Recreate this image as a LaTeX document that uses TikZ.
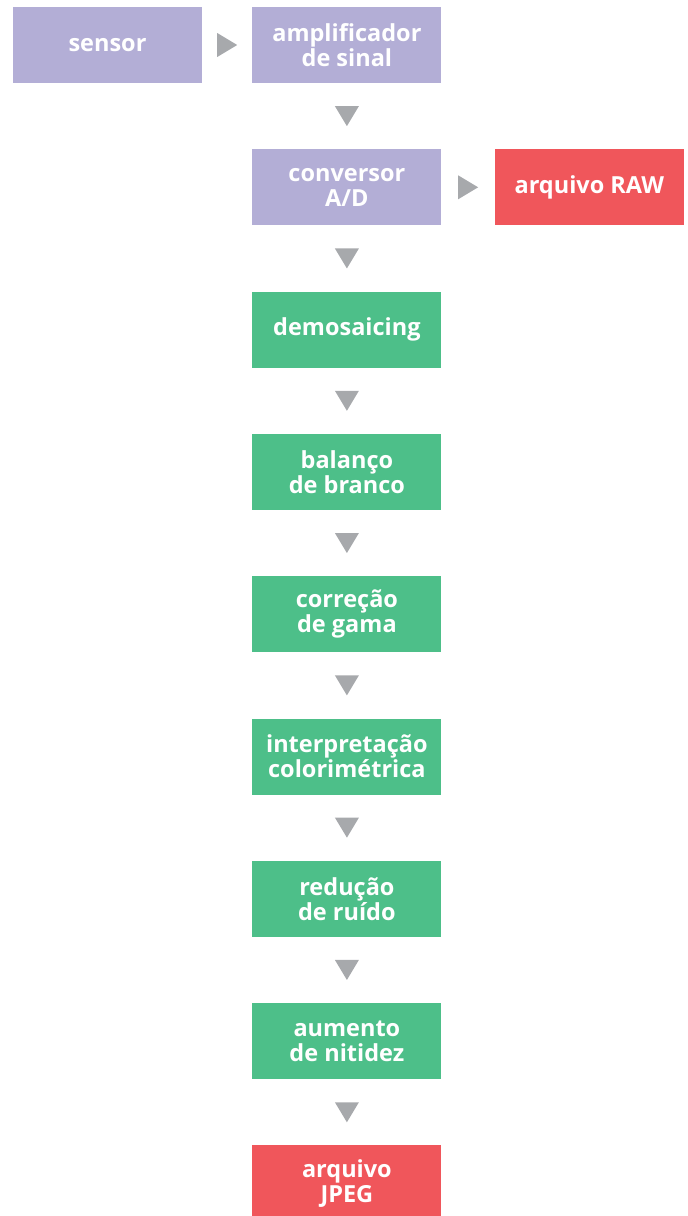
\documentclass[tikz,border=0pt]{standalone}
\usepackage{fontspec}
\setmainfont{Open Sans}
\usetikzlibrary{positioning,calc}
\definecolor{camlilac}{HTML}{B3AED6}
\definecolor{camgreen}{HTML}{4DBF89}
\definecolor{camred}{HTML}{F0565B}
\definecolor{camgray}{HTML}{A7A9AC}
% small gray heads between the stages
\newcommand{\tridown}[2]{\fill[tri] ($(#1.south)!0.5!(#2.north)+(-12pt,10pt)$) -- ++(24pt,0) -- ++(-12pt,-20pt) -- cycle;}
\newcommand{\triright}[2]{\fill[tri] ($(#1.east)!0.5!(#2.west)+(-10pt,12pt)$) -- ++(0,-24pt) -- ++(20pt,12pt) -- cycle;}
\begin{document}
\begin{tikzpicture}[
  stage/.style={minimum width=189pt,minimum height=76pt,inner sep=0pt,align=center,text=white,font=\bfseries\fontsize{23.5}{25}\selectfont},
  hw/.style={stage,fill=camlilac},
  proc/.style={stage,fill=camgreen},
  filebox/.style={stage,fill=camred},
  tri/.style={fill=camgray}
]
\useasboundingbox (0,0) rectangle (688pt,-1216pt);
\node[hw] (sensor) at (107.5pt,-45pt) {sensor};
\node[hw,right=50pt of sensor] (amp) {amplificador\\de sinal};
\node[hw,below=65.9pt of amp] (adc) {conversor\\A/D};
\node[filebox,right=53pt of adc] (raw) {arquivo RAW};
\node[proc,below=65.9pt of adc] (demosaic) {demosaicing};
\node[proc,below=65.9pt of demosaic] (wb) {balanço\\de branco};
\node[proc,below=65.9pt of wb] (gamma) {correção\\de gama};
\node[proc,below=65.9pt of gamma] (color) {interpretação\\colorimétrica};
\node[proc,below=65.9pt of color] (noise) {redução\\de ruído};
\node[proc,below=65.9pt of noise] (sharp) {aumento\\de nitidez};
\node[filebox,below=65.9pt of sharp] (jpeg) {arquivo\\JPEG};
\triright{sensor}{amp}
\triright{adc}{raw}
\tridown{amp}{adc}
\tridown{adc}{demosaic}
\tridown{demosaic}{wb}
\tridown{wb}{gamma}
\tridown{gamma}{color}
\tridown{color}{noise}
\tridown{noise}{sharp}
\tridown{sharp}{jpeg}
\end{tikzpicture}
\end{document}
